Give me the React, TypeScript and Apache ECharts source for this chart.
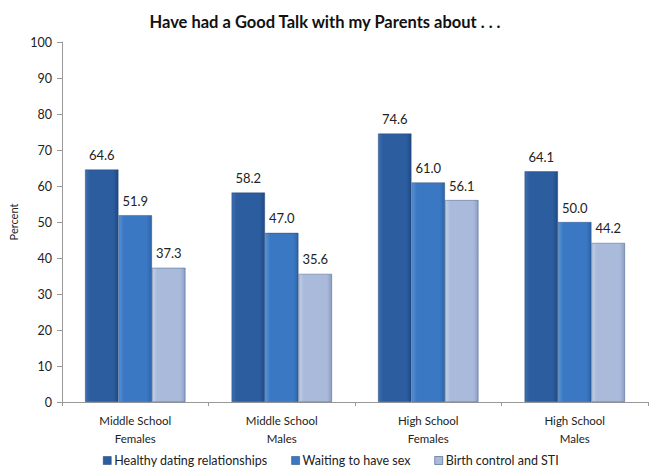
import React, { useEffect, useRef } from "react";
import * as echarts from "echarts";

const categories = ["Middle School\nFemales", "Middle School\nMales", "High School\nFemales", "High School\nMales"];
const seriesNames = ["Healthy dating relationships", "Waiting to have sex", "Birth control and STI"];
const healthy = [64.6, 58.2, 74.6, 64.1];
const waiting = [51.9, 47.0, 61.0, 50.0];
const birth = [37.3, 35.6, 56.1, 44.2];
const yTicks = { min: 0, max: 100, interval: 10 };

const FONT = "Lato, 'Open Sans', sans-serif";

function grad(c1: string, c2: string, c3: string) {
  return new echarts.graphic.LinearGradient(0, 0, 1, 0, [
    { offset: 0, color: c1 },
    { offset: 0.15, color: c2 },
    { offset: 0.85, color: c2 },
    { offset: 1, color: c3 },
  ]);
}

export default function App() {
  const ref = useRef<HTMLDivElement>(null);
  useEffect(() => {
    const chart = echarts.init(ref.current!, null, { renderer: "svg" });
    const colors = [
      grad("#3d6fb0", "#2c5d9f", "#1f4a85"),
      grad("#5a93d6", "#3b78c3", "#2c64a8"),
      grad("#c3d0e6", "#a9badb", "#8c9fc4"),
    ];
    const legendColors = ["#2c5d9f", "#3b78c3", "#a9badb"];
    const datas = [healthy, waiting, birth];
    chart.setOption({
      animation: false,
      textStyle: { fontFamily: FONT },
      title: {
        text: "Have had a Good Talk with my Parents about . . .",
        left: "center",
        top: 8,
        textStyle: { fontFamily: FONT, fontSize: 16.5, fontWeight: "bold", color: "#111" },
      },
      legend: {
        bottom: -5,
        left: 98,
        itemWidth: 8,
        itemHeight: 8,
        itemGap: 24,
        icon: "rect",
        textStyle: { fontFamily: FONT, fontSize: 12.5, color: "#222", padding: [0, 0, 0, -2] },
        data: seriesNames.map((n, i) => ({ name: n, itemStyle: { color: legendColors[i], borderColor: "#1a3d6e", borderWidth: 0.5 } })),
      },
      grid: { left: 62, right: 2, top: 42, bottom: 65 },
      xAxis: {
        type: "category",
        data: categories,
        axisLine: { lineStyle: { color: "#999" } },
        axisTick: { show: true, lineStyle: { color: "#999" }, length: 4 },
        axisLabel: { fontFamily: FONT, fontSize: 11.5, color: "#222", lineHeight: 18, margin: 9 },
      },
      yAxis: {
        type: "value",
        min: yTicks.min,
        max: yTicks.max,
        interval: yTicks.interval,
        name: "Percent",
        nameLocation: "middle",
        nameGap: 38,
        nameTextStyle: { fontFamily: FONT, fontSize: 11, color: "#222" },
        axisLine: { show: true, lineStyle: { color: "#999" } },
        axisTick: { show: true, lineStyle: { color: "#999" }, length: 5 },
        splitLine: { show: false },
        axisLabel: { fontFamily: FONT, fontSize: 12.5, color: "#222", margin: 10 },
      },
      series: datas.map((d, i) => ({
        name: seriesNames[i],
        type: "bar",
        data: d,
        barWidth: 33.5,
        barGap: "0%",
        itemStyle: { color: colors[i], borderColor: "rgba(20,50,100,0.6)", borderWidth: 0.6 },
        label: {
          show: true,
          position: "top",
          distance: 8,
          formatter: (p: any) => p.value.toFixed(1),
          fontFamily: FONT,
          fontSize: 13,
          color: "#222",
        },
      })),
    });
    return () => chart.dispose();
  }, []);
  return <div ref={ref} style={{ width: 650, height: 467, position: "absolute", left: 0, top: 0 }} />;
}
